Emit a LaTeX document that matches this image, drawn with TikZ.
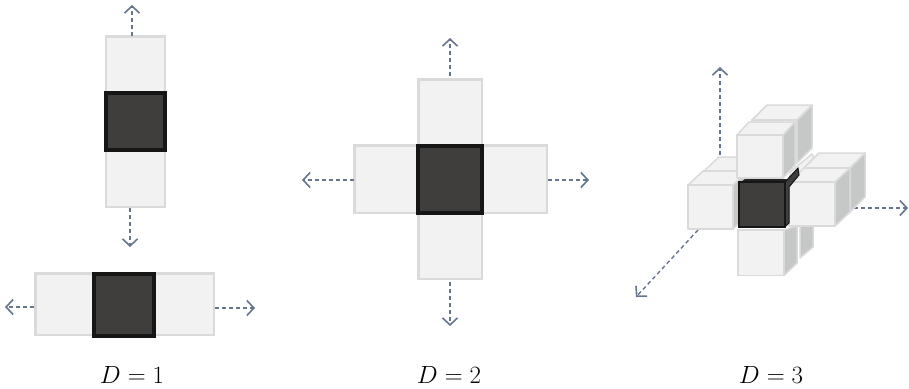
\documentclass[tikz,border=0pt]{standalone}
\usetikzlibrary{arrows.meta}
\definecolor{lightfill}{HTML}{F2F2F2}
\definecolor{lightedge}{HTML}{DADADA}
\definecolor{sidefill}{HTML}{C6C8C7}
\definecolor{darkfill}{HTML}{3F3E3D}
\definecolor{darkedge}{HTML}{161616}
\definecolor{arrowblue}{HTML}{66758E}
\tikzset{
  x=1pt,y=-1pt,
  lightsq/.style={draw=lightedge,fill=lightfill,line width=2.4pt,line join=miter},
  darksq/.style={draw=darkedge,fill=darkfill,line width=4pt,line join=miter},
  face/.style={draw=lightedge,fill=lightfill,line width=1.5pt,line join=round},
  side/.style={draw=lightedge,fill=sidefill,line width=1.5pt,line join=round},
  flow/.style={draw=arrowblue,line width=1.4pt,dash pattern=on 4pt off 3pt,
     -{Straight Barb[length=7pt,width=15pt,line width=1.6pt]}},
  caption/.style={font=\fontsize{24}{26}\selectfont,inner sep=0pt,anchor=base}
}
% #1 front x0, #2 front y0, #3 front x1, #4 front y1, #5 dx, #6 dy
\newcommand{\lightcube}[6]{%
  \draw[side] (#3,#2) -- ({#3+#5},{#2-#6}) -- ({#3+#5},{#4-#6}) -- (#3,#4) -- cycle;
  \draw[face] (#1,#2) -- ({#1+#5},{#2-#6}) -- ({#3+#5},{#2-#6}) -- (#3,#2) -- cycle;
  \draw[face] (#1,#2) rectangle (#3,#4);
}
\begin{document}
\begin{tikzpicture}
\useasboundingbox (0,0) rectangle (909,388);
% ---------- D=1 vertical
\draw[lightsq] (106,36.5) rectangle (165,207) ;
\node[darksq,minimum width=59pt,minimum height=57pt,inner sep=0pt] (v1) at (135,121.5) {};
\coordinate (v1t) at (132,36);\coordinate (v1te) at (132,5);
\coordinate (v1b) at (130,208);\coordinate (v1be) at (130,247);
\draw[flow] (v1t) -- (v1te);
\draw[flow] (v1b) -- (v1be);
% ---------- D=1 horizontal
\draw[lightsq] (35.5,273.5) rectangle (214,335);
\node[darksq,minimum width=60pt,minimum height=62pt,inner sep=0pt] (h1) at (124,304.5) {};
\coordinate (h1l) at (34,307);\coordinate (h1le) at (5,307);
\coordinate (h1r) at (215,308);\coordinate (h1re) at (255,308);
\draw[flow] (h1l) -- (h1le);
\draw[flow] (h1r) -- (h1re);
% ---------- D=2
\draw[lightsq] (418.5,79.5) rectangle (482,279);
\draw[lightsq] (354.5,145.5) rectangle (547,213);
\node[darksq,minimum width=64pt,minimum height=67pt,inner sep=0pt] (c2) at (450,179.5) {};
\coordinate (c2t) at (450,76);\coordinate (c2te) at (450,38);
\coordinate (c2l) at (354,180);\coordinate (c2le) at (302,180);
\coordinate (c2r) at (548,180);\coordinate (c2re) at (589,180);
\coordinate (c2b) at (450,282);\coordinate (c2be) at (450,326);
\draw[flow] (c2t) -- (c2te);
\draw[flow] (c2l) -- (c2le);
\draw[flow] (c2r) -- (c2re);
\draw[flow] (c2b) -- (c2be);
% ---------- D=3 arrows
\coordinate (o3u) at (720,155);\coordinate (o3ue) at (720,67);
\coordinate (o3r) at (854,208);\coordinate (o3re) at (908,208);
\coordinate (o3d) at (698,230);\coordinate (o3de) at (636,297);
\draw[flow] (o3u) -- (o3ue);
\draw[flow] (o3r) -- (o3re);
\draw[flow] (o3d) -- (o3de);
% ---------- D=3 cubes, back to front
\lightcube{704}{171}{750}{215}{15}{14} % back left
\lightcube{752}{120}{797}{163}{15}{15} % back top
\draw[face] (790,172) -- (812,154) -- (814,157) -- (806,168) -- (790,180) -- cycle;
\lightcube{804}{168}{850}{212}{15}{15} % back right
% bottom pair
\draw[side] (800,226) -- (813,226) -- (813,247) -- (800,258) -- cycle;
\draw[side] (784,230) -- (797,226) -- (797,263) -- (784,275.5) -- cycle;
\draw[face] (738,230) rectangle (784,275.5);
\lightcube{688}{185}{733}{229}{15}{14} % left
\lightcube{789}{182}{835}{226}{15}{14} % right
% dark centre
\draw[fill=darkfill,draw=darkedge,line width=1pt] (785,182) -- (798,168) -- (799,175) -- (789,187) -- (789,223) -- (785,227) -- cycle;
\draw[fill=black!45!darkfill,draw=none] (741,182) -- (745,179) -- (787,179) -- (785,182) -- cycle;
\node[draw=darkedge,fill=darkfill,line width=1.4pt,minimum width=46pt,minimum height=45pt,inner sep=0pt] (c3) at (762,204.5) {};
\lightcube{737}{135}{783}{178}{12}{13} % top
% ---------- captions
\node[caption] (d1) at (132,383) {$D=1$};
\node[caption] (d2) at (449,383) {$D=2$};
\node[caption] (d3) at (771,383) {$D=3$};
\end{tikzpicture}
\end{document}
